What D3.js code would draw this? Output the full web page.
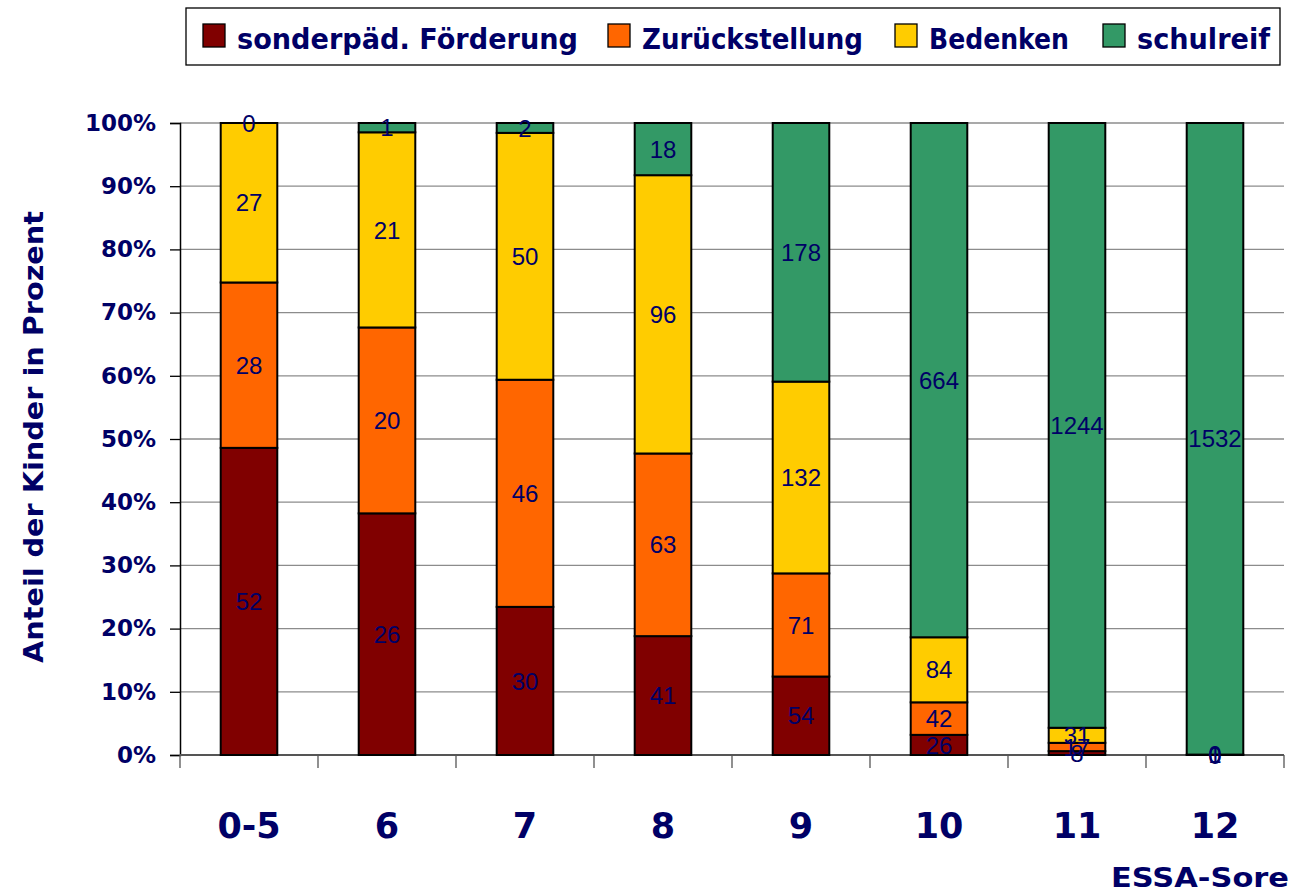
<!DOCTYPE html>
<html>
<head>
<meta charset="utf-8">
<script src="https://cdn.jsdelivr.net/npm/d3@7"></script>
<style>
  body { margin: 0; background: #fff; }
  svg text { fill: #000066; }
</style>
</head>
<body>
<div id="chart"></div>
<script>
// ages (ESSA score groups)
let categories = ["0-5", "6", "7", "8", "9", "10", "11", "12"];
let seriesNames = ["sonderpäd. Förderung", "Zurückstellung", "Bedenken", "schulreif"];
let seriesColors = ["#800000", "#FF6600", "#FFCC00", "#339966"];

let sonderpaed = [52, 26, 30, 41, 54, 26, 8, 0];
let zurueckstellung = [28, 20, 46, 63, 71, 42, 17, 1];
let bedenken = [27, 21, 50, 96, 132, 84, 31, 0];
let schulreif = [0, 1, 2, 18, 178, 664, 1244, 1532];

let yTicks = [0, 0.1, 0.2, 0.3, 0.4, 0.5, 0.6, 0.7, 0.8, 0.9, 1];

let width = 1295, height = 894;
let margin = {top: 123, right: 11, bottom: 139, left: 180};
let innerW = width - margin.left - margin.right;
let innerH = height - margin.top - margin.bottom;

let seriesValues = [sonderpaed, zurueckstellung, bedenken, schulreif];
let keys = ["s0", "s1", "s2", "s3"];
let rows = categories.map(function (c, i) {
    let row = {cat: c};
    let total = 0;
    keys.forEach(function (k, j) { row[k] = seriesValues[j][i]; total += seriesValues[j][i]; });
    keys.forEach(function (k) { row[k] = row[k] / total; });
    row.raw = seriesValues.map(function (s) { return s[i]; });
    return row;
});

let stacked = d3.stack().keys(keys)(rows);

let svg = d3.select("#chart").append("svg")
    .attr("width", width)
    .attr("height", height);

let g = svg.append("g")
    .attr("transform", "translate(" + margin.left + "," + margin.top + ")");

let x = d3.scaleBand().domain(categories).range([0, innerW]).paddingInner(0.59).paddingOuter(0.295);
let xEdges = d3.scaleLinear().domain([0, categories.length]).range([0, innerW]);
let y = d3.scaleLinear().domain([0, 1]).range([innerH, 0]);

// grid
g.append("g").selectAll("line").data(yTicks).join("line")
    .attr("x1", 0).attr("x2", innerW)
    .attr("y1", function (d) { return y(d); })
    .attr("y2", function (d) { return y(d); })
    .attr("stroke", "#8c8c8c").attr("stroke-width", 1.3);

// y axis
let yAxis = g.append("g")
    .call(d3.axisLeft(y).tickValues(yTicks).tickFormat(d3.format(".0%")).tickSize(10).tickPadding(14));
yAxis.select(".domain").attr("stroke", "#000").attr("stroke-width", 1.5);
yAxis.selectAll(".tick line").attr("stroke", "#000").attr("stroke-width", 1.3);
yAxis.selectAll("text")
    .attr("font-family", "'DejaVu Sans', sans-serif")
    .attr("font-weight", "bold")
    .attr("font-size", 23)
    .attr("fill", "#000066");

// x axis line + boundary ticks
g.append("line")
    .attr("x1", 0).attr("x2", innerW)
    .attr("y1", innerH).attr("y2", innerH)
    .attr("stroke", "#555").attr("stroke-width", 2);
g.append("g").selectAll("line").data(d3.range(categories.length + 1)).join("line")
    .attr("x1", function (d) { return xEdges(d); })
    .attr("x2", function (d) { return xEdges(d); })
    .attr("y1", innerH).attr("y2", innerH + 13)
    .attr("stroke", "#555").attr("stroke-width", 1.3);

g.append("g").selectAll("text").data(categories).join("text")
    .attr("x", function (d) { return x(d) + x.bandwidth() / 2; })
    .attr("y", innerH + 83)
    .attr("text-anchor", "middle")
    .attr("font-family", "'DejaVu Sans', sans-serif")
    .attr("font-weight", "bold")
    .attr("font-size", 35)
    .text(function (d) { return d; });

// bars
let layers = g.append("g").selectAll("g").data(stacked).join("g")
    .attr("fill", function (d, i) { return seriesColors[i]; });

layers.selectAll("rect").data(function (d) { return d; }).join("rect")
    .attr("x", function (d) { return x(d.data.cat); })
    .attr("width", x.bandwidth())
    .attr("y", function (d) { return y(d[1]); })
    .attr("height", function (d) { return y(d[0]) - y(d[1]); })
    .attr("stroke", "#000")
    .attr("stroke-width", 2);

// value labels
stacked.forEach(function (layer, si) {
    g.append("g").selectAll("text").data(layer).join("text")
        .attr("x", function (d) { return x(d.data.cat) + x.bandwidth() / 2; })
        .attr("y", function (d) { return y((d[0] + d[1]) / 2); })
        .attr("dy", "0.36em")
        .attr("text-anchor", "middle")
        .attr("font-family", "'Liberation Sans', Arial, sans-serif")
        .attr("font-size", 24)
        .attr("fill", "#000080")
        .text(function (d) { return d.data.raw[si]; });
});

// y axis title
svg.append("text")
    .attr("transform", "translate(43," + 437 + ") rotate(-90)")
    .attr("text-anchor", "middle")
    .attr("font-family", "'DejaVu Sans', sans-serif")
    .attr("font-weight", "bold")
    .attr("font-size", 27)
    .attr("textLength", 452)
    .attr("lengthAdjust", "spacingAndGlyphs")
    .text("Anteil der Kinder in Prozent");

// source note
svg.append("text")
    .attr("x", 1289).attr("y", 887)
    .attr("text-anchor", "end")
    .attr("font-family", "'DejaVu Sans', sans-serif")
    .attr("font-weight", "bold")
    .attr("font-size", 26)
    .attr("textLength", 178)
    .attr("lengthAdjust", "spacingAndGlyphs")
    .text("ESSA-Sore");

// legend
let legend = svg.append("g");
legend.append("rect")
    .attr("x", 186).attr("y", 8).attr("width", 1094).attr("height", 57)
    .attr("fill", "#fff").attr("stroke", "#000").attr("stroke-width", 1.3);
let legendX = [203, 608, 895, 1103];
let legendW = [341, 221, 140, 133];
seriesNames.forEach(function (name, i) {
    legend.append("rect")
        .attr("x", legendX[i]).attr("y", 24).attr("width", 22).attr("height", 23)
        .attr("fill", seriesColors[i]).attr("stroke", "#000").attr("stroke-width", 1.3);
    legend.append("text")
        .attr("x", legendX[i] + 34).attr("y", 49)
        .attr("font-family", "'DejaVu Sans', sans-serif")
        .attr("font-weight", "bold")
        .attr("font-size", 29)
        .attr("textLength", legendW[i])
        .attr("lengthAdjust", "spacingAndGlyphs")
        .text(name);
});
</script>
</body>
</html>
